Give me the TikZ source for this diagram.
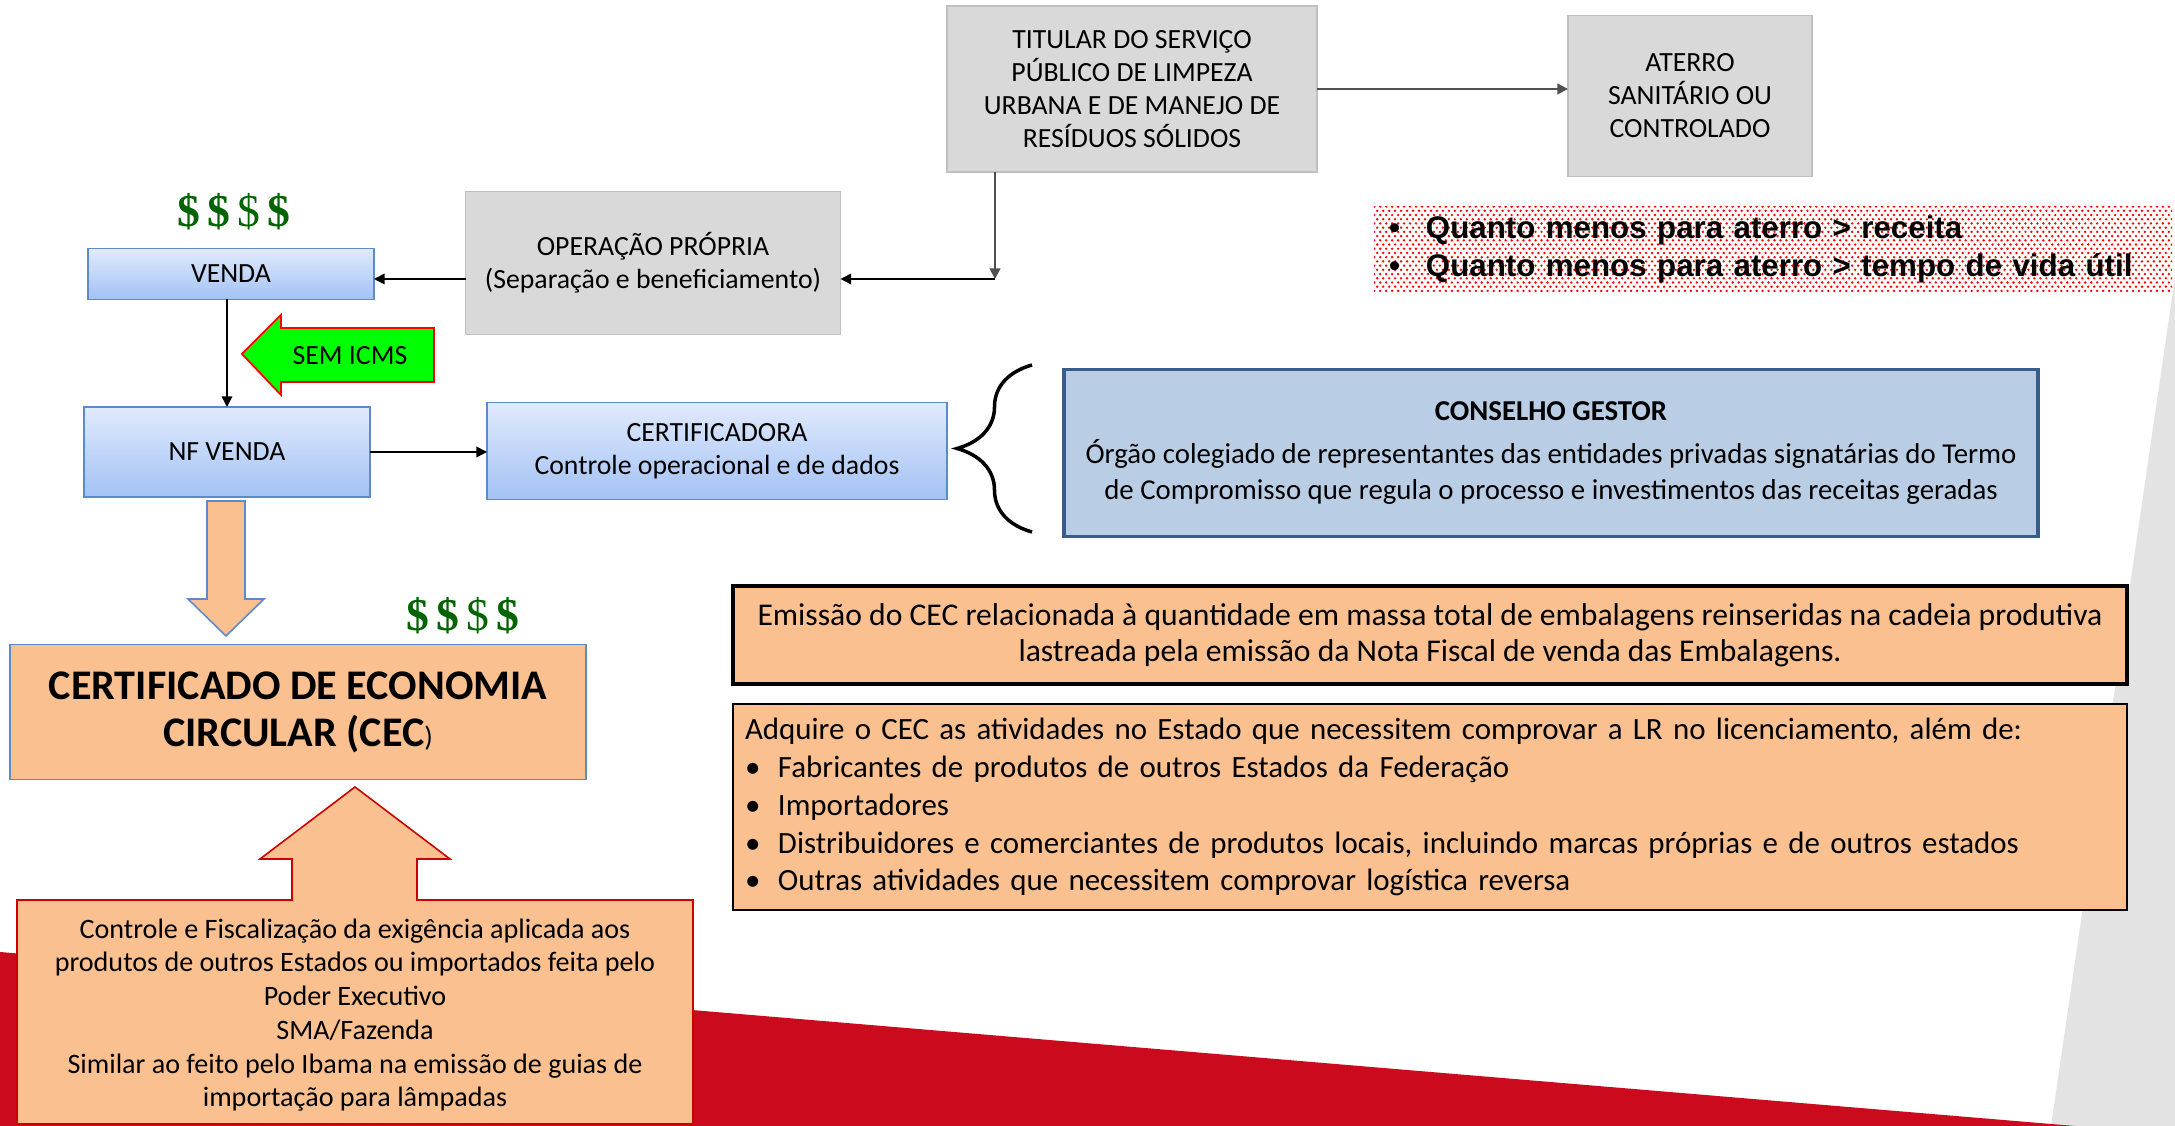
\documentclass[tikz,border=0pt]{standalone}
\usepackage{fontspec}
\setmainfont{Carlito}
\newfontfamily\arialfont{Liberation Sans}
\newfontfamily\timesfont{Liberation Serif}
\usetikzlibrary{arrows.meta,decorations.pathreplacing,patterns}

\definecolor{boxgray}{RGB}{217,217,217}
\definecolor{edgegray}{RGB}{191,191,191}
\definecolor{bluetop}{RGB}{224,234,252}
\definecolor{bluebot}{RGB}{163,194,245}
\definecolor{edgeblue}{RGB}{91,139,201}
\definecolor{councilfill}{RGB}{185,205,229}
\definecolor{counciledge}{RGB}{56,93,138}
\definecolor{cecorange}{RGB}{250,192,144}
\definecolor{dollargreen}{RGB}{0,100,0}
\definecolor{bandred}{RGB}{204,10,30}
\definecolor{wedgegray}{RGB}{227,227,227}
\definecolor{linegray}{RGB}{80,80,80}

\pgfdeclarepatternformonly{finedots}{\pgfqpoint{-0.5pt}{-0.5pt}}{\pgfqpoint{1.3pt}{1.7pt}}{\pgfqpoint{1.7pt}{2.4pt}}{%
  \pgfpathcircle{\pgfqpoint{0pt}{0pt}}{0.38pt}%
  \pgfpathcircle{\pgfqpoint{0.85pt}{1.2pt}}{0.38pt}%
  \pgfusepath{fill}}

\newcommand{\bulletline}[2]{\makebox[#1][l]{\textbullet}#2}
\newcommand{\dollars}{{\timesfont\fontsize{13}{13}\selectfont\color{dollargreen}%
  \textbf{\$}\hspace{2pt}\textbf{\$}\hspace{2pt}\$\hspace{2pt}\textbf{\$}}}

\begin{document}
\begin{tikzpicture}[x=0.1mm,y=-0.1mm,
    every node/.style={align=center,inner sep=0pt,outer sep=0pt},
    smalltext/.style={font=\fontsize{7.9}{9.4}\selectfont},
    graybox/.style={rectangle,fill=boxgray,draw=edgegray,line width=.4pt,smalltext},
    bluebox/.style={rectangle,draw=edgeblue,line width=.5pt,top color=bluetop,bottom color=bluebot,smalltext},
    orangebox/.style={rectangle,fill=cecorange,draw=black},
    conn/.style={-{Triangle[length=3pt,width=3pt]},line width=.45pt},
    blockarrow/.style={fill=cecorange,line width=.45pt}]

  % background
  \fill[white] (0,0) rectangle (2175,1126);
  \useasboundingbox (0,0) rectangle (2175,1126);
  \fill[wedgegray] (2175,277) -- (2175,1126) -- (2051,1126) -- cycle;
  \fill[bandred] (0,952) -- (2075,1126) -- (0,1126) -- cycle;

  % top flow
  \node[graybox,minimum width=37mm,minimum height=16.6mm] (titular) at (1132,89)
    {TITULAR DO SERVIÇO\\PÚBLICO DE LIMPEZA\\URBANA E DE MANEJO DE\\RESÍDUOS SÓLIDOS};
  \node[graybox,minimum width=24.4mm,minimum height=16.1mm] (aterro) at (1690,96)
    {ATERRO\\SANITÁRIO OU\\CONTROLADO};
  \node[graybox,minimum width=37.5mm,minimum height=14.3mm] (operacao) at (653,263)
    {OPERAÇÃO PRÓPRIA\\(Separação e beneficiamento)};
  \coordinate (bend) at (995,279);

  \node[bluebox,minimum width=28.6mm,minimum height=5.1mm] (venda) at (231,274) {VENDA};
  \node[bluebox,minimum width=28.6mm,minimum height=9mm] (nfvenda) at (227,452) {NF VENDA};
  \node[bluebox,minimum width=46mm,minimum height=9.7mm] (certif) at (717,451)
    {CERTIFICADORA\\Controle operacional e de dados};
  \node (dollarsup) at (234,212) {\dollars};

  \draw[conn,linegray,line width=.6pt] (titular.east) -- (titular.east -| aterro.west);
  \draw[conn,linegray,line width=.6pt] (titular.south -| bend) -- (bend);
  \draw[conn] (bend) -- (bend -| operacao.east);
  \draw[conn] (operacao.west |- bend) -- (venda.east |- bend);
  \draw[conn] (nfvenda.north |- venda.south) -- (nfvenda.north);
  \draw[conn] (nfvenda.east) -- (nfvenda.east -| certif.west);

  % sem icms
  \draw[red,fill=green,line width=.5pt] (242,354) -- (281,315) -- (281,328) -- (434,328)
    -- (434,382) -- (281,382) -- (281,395) -- cycle;
  \node[smalltext] (semicms) at (350,356) {SEM ICMS};

  % certificado
  \draw[blockarrow,draw=edgeblue] (207,501) -- (245,501) -- (245,599) -- (264,599)
    -- (226,636) -- (188,599) -- (207,599) -- cycle;
  \node[rectangle,fill=cecorange,draw=edgeblue,line width=.5pt,minimum width=57.6mm,minimum height=13.5mm,
    font=\fontsize{12}{13.4}\selectfont\bfseries] (cec) at (298,712)
    {CERTIFICADO DE ECONOMIA\\CIRCULAR (CEC{\mdseries\fontsize{8}{8}\selectfont)}};
  \node (dollarsdown) at (463,616) {\dollars};

  \draw[blockarrow,draw=red!80!black] (17,900) -- (292,900) -- (292,859) -- (260,859) -- (355,787)
    -- (450,859) -- (417,859) -- (417,900) -- (693,900) -- (693,1124) -- (17,1124) -- cycle;
  \node[font=\fontsize{8}{9.6}\selectfont] (controle) at (355,1015)
    {Controle e Fiscalização da exigência aplicada aos\\produtos de outros Estados ou importados feita pelo\\
     Poder Executivo\\SMA/Fazenda\\Similar ao feito pelo Ibama na emissão de guias de\\importação para lâmpadas};

  % conselho
  \draw[decorate,decoration={brace,amplitude=7.5mm},line width=1pt] (1032,532) -- (1032,365);
  \node[rectangle,fill=councilfill,draw=counciledge,line width=.9pt,minimum width=97.4mm,minimum height=16.7mm,
    font=\fontsize{8.2}{10.2}\selectfont] (conselho) at (1551,453)
    {\textbf{CONSELHO GESTOR}\\[2pt]Órgão colegiado de representantes das entidades privadas signatárias do Termo\\
     de Compromisso que regula o processo e investimentos das receitas geradas};

  \node[pattern=finedots,pattern color=red,minimum width=79.8mm,minimum height=8.5mm,text width=76.8mm,align=left,
    font=\arialfont\bfseries\fontsize{8.9}{10.8}\selectfont] (aterrobox) at (1773,249)
    {\bulletline{3.7mm}{Quanto menos para aterro > receita}\\\bulletline{3.7mm}{Quanto menos para aterro > tempo de vida útil}};

  \node[orangebox,line width=1.2pt,minimum width=139.4mm,minimum height=9.8mm,
    font=\fontsize{9}{10.2}\selectfont] (emissao) at (1430,635)
    {Emissão do CEC relacionada à quantidade em massa total de embalagens reinseridas na cadeia produtiva\\
     lastreada pela emissão da Nota Fiscal de venda das Embalagens.};
  \node[orangebox,line width=.5pt,text width=137mm,inner xsep=1.2mm,minimum height=20.6mm,align=left,
    font=\fontsize{8.8}{10.8}\selectfont] (adquire) at (1430,807)
    {Adquire o CEC as atividades no Estado que necessitem comprovar a LR no licenciamento, além de:\\
     \bulletline{3.3mm}{Fabricantes de produtos de outros Estados da Federação}\\
     \bulletline{3.3mm}{Importadores}\\
     \bulletline{3.3mm}{Distribuidores e comerciantes de produtos locais, incluindo marcas próprias e de outros estados}\\
     \bulletline{3.3mm}{Outras atividades que necessitem comprovar logística reversa}};
\end{tikzpicture}
\end{document}
